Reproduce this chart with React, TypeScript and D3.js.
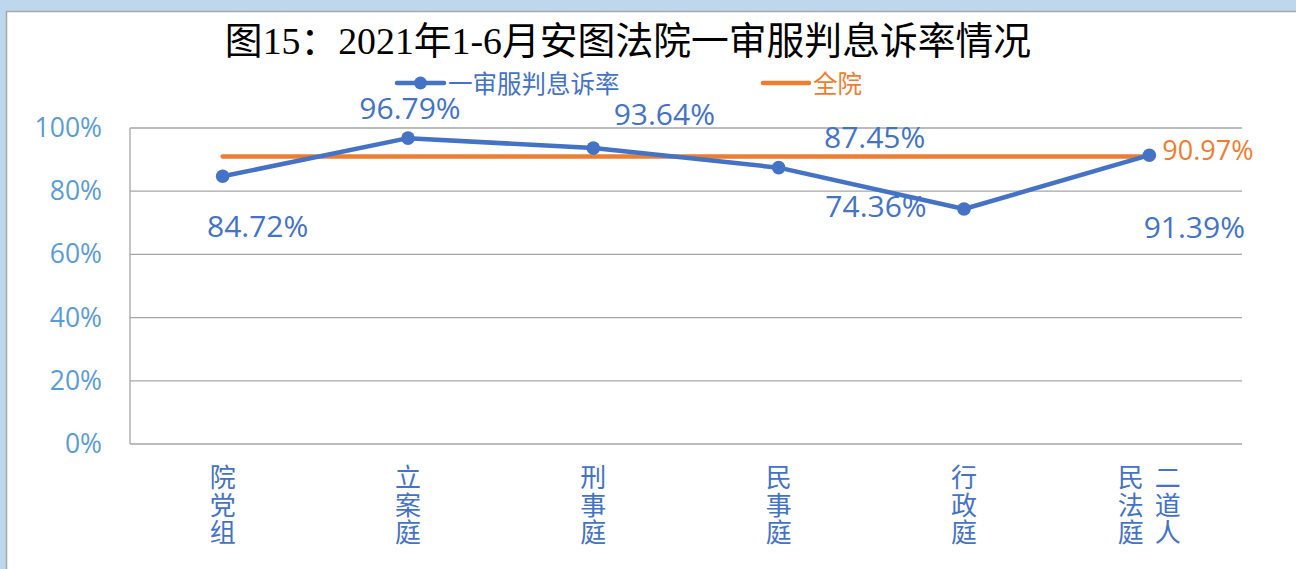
import React from "react";
import * as d3 from "d3";

const categories = ["院党组", "立案庭", "刑事庭", "民事庭", "行政庭", "二道人民法庭"];
const rateValues = [84.72, 96.79, 93.64, 87.45, 74.36, 91.39];
const courtAverage = 90.97;
const yTicks = [0, 20, 40, 60, 80, 100];
const titleText = "图15：2021年1-6月安图法院一审服判息诉率情况";
const seriesNames = ["一审服判息诉率", "全院"];

// layout (label offsets relative to each point, in px)
const labelOffsets: [number, number][] = [
  [35, 49],
  [2, -31],
  [71, -35],
  [96, -31],
  [-88, -4],
  [45, 71],
];

const W = 1296;
const H = 569;
const BLUE = "#4472C4";
const ORANGE = "#ED7D31";
const AXIS_BLUE = "#5B9BD5";
const GRID = "#A6A6A6";
const NUM_FONT = "'Open Sans', 'Noto Sans CJK SC', sans-serif";
const CJK_FONT = "'Noto Sans CJK SC', sans-serif";

export default function App() {
  const margin = { left: 130, right: W - 1242, top: 128, bottom: H - 444 };
  const x = d3
    .scalePoint<string>()
    .domain(categories)
    .range([margin.left, W - margin.right])
    .padding(0.5);
  const y = d3.scaleLinear().domain([0, 100]).range([H - margin.bottom, margin.top]);

  const line = d3
    .line<number>()
    .x((_, i) => x(categories[i]) as number)
    .y((d) => y(d));

  const x0 = x(categories[0]) as number;
  const x1 = x(categories[categories.length - 1]) as number;

  const splitColumns = (s: string) => {
    const cols: string[] = [];
    for (let i = 0; i < s.length; i += 3) cols.push(s.slice(i, i + 3));
    return cols;
  };

  return (
    <svg
      width={W}
      height={H}
      style={{ position: "absolute", left: 0, top: 0, display: "block" }}
    >
      <rect x={0} y={0} width={W} height={H} fill="#BDD7EE" />
      <rect x={6.5} y={11.5} width={W + 20} height={H + 20} fill="#fff" stroke="#A6A6A6" strokeWidth={1.5} />

      {/* title */}
      <text
        x={628}
        y={41}
        textAnchor="middle"
        dominantBaseline="central"
        fontFamily="'Liberation Serif', 'Noto Sans CJK SC', serif"
        fontSize={37.8}
        fill="#000"
      >
        {titleText}
      </text>

      {/* legend */}
      <g>
        <line x1={397} x2={444} y1={83} y2={83} stroke={BLUE} strokeWidth={4.5} strokeLinecap="round" />
        <circle cx={420.5} cy={83} r={6.5} fill={BLUE} />
        <text x={448} y={82} dominantBaseline="central" fontFamily={CJK_FONT} fontSize={24.5} fill={BLUE}>
          {seriesNames[0]}
        </text>
        <line x1={763} x2={809} y1={83} y2={83} stroke={ORANGE} strokeWidth={4.5} strokeLinecap="round" />
        <text x={813} y={82} dominantBaseline="central" fontFamily={CJK_FONT} fontSize={24.5} fill={ORANGE}>
          {seriesNames[1]}
        </text>
      </g>

      {/* grid */}
      {yTicks.map((t) => (
        <g key={t}>
          <line x1={margin.left} x2={W - margin.right} y1={y(t)} y2={y(t)} stroke={GRID} strokeWidth={1.3} />
          <text
            x={102}
            y={y(t) - 1}
            textAnchor="end"
            dominantBaseline="central"
            fontFamily={NUM_FONT}
            fontSize={26.5}
            fill={AXIS_BLUE}
          >
            {t}%
          </text>
        </g>
      ))}
      <line x1={margin.left} x2={margin.left} y1={y(100)} y2={y(0)} stroke={GRID} strokeWidth={1.3} />

      {/* x labels: vertical columns, right-to-left */}
      {categories.map((c) => {
        const cols = splitColumns(c);
        const cx = x(c) as number;
        const n = cols.length;
        return cols.map((col, ci) => (
          <text
            key={c + ci}
            x={cx + ((n - 1) / 2 - ci) * 37}
            y={464}
            writingMode="vertical-rl"
            textAnchor="start"
            fontFamily={CJK_FONT}
            fontSize={26}
            letterSpacing={1.8}
            fill={BLUE}
          >
            {col}
          </text>
        ));
      })}

      {/* average line */}
      <line x1={x0} x2={x1} y1={y(courtAverage)} y2={y(courtAverage)} stroke={ORANGE} strokeWidth={4.5} strokeLinecap="round" />
      <text
        x={x1 + 13}
        y={y(courtAverage) - 7}
        dominantBaseline="central"
        fontFamily={NUM_FONT}
        fontSize={27}
        fill={ORANGE}
      >
        {courtAverage.toFixed(2)}%
      </text>

      {/* series line */}
      <path d={line(rateValues) as string} fill="none" stroke={BLUE} strokeWidth={4.5} strokeLinejoin="round" />
      {rateValues.map((v, i) => (
        <circle key={i} cx={x(categories[i]) as number} cy={y(v)} r={6.8} fill={BLUE} />
      ))}
      {rateValues.map((v, i) => (
        <text
          key={"l" + i}
          x={(x(categories[i]) as number) + labelOffsets[i][0]}
          y={y(v) + labelOffsets[i][1]}
          textAnchor="middle"
          dominantBaseline="central"
          fontFamily={NUM_FONT}
          fontSize={30}
          fill={BLUE}
        >
          {v.toFixed(2)}%
        </text>
      ))}
    </svg>
  );
}
